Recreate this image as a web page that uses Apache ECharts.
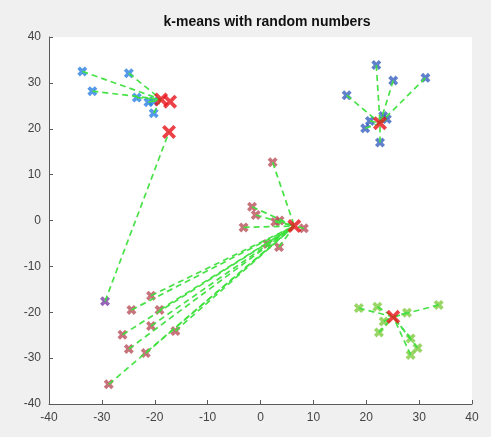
<!DOCTYPE html>
<html>
<head>
<meta charset="utf-8">
<script src="https://cdn.jsdelivr.net/npm/echarts@6/dist/echarts.min.js"></script>
<style>html,body{margin:0;padding:0;background:#f0f0f0;}#c{width:491px;height:437px;}</style>
</head>
<body>
<div id="c"></div>
<script>
// Centroids: [x, y]
var centroids = [
  [-18.8, 26.4],   // 0: blue cluster
  [-17.1, 25.9],   // 1: empty centroid
  [-17.3, 19.3],   // 2: purple cluster
  [22.6, 21.2],    // 3: dark blue cluster
  [6.4, -1.2],     // 4: red cluster
  [25.1, -21.0]    // 5: green cluster
];
// Points per cluster, with the centroid index they belong to
var blueA = [[-33.7, 32.5], [-24.9, 32.1], [-31.8, 28.2], [-23.4, 26.8], [-21.2, 25.8], [-20.2, 26.0], [-20.2, 23.4]];
var blueAcent = 0;
var purple = [[-29.4, -17.6]];
var purplecent = 2;
var blueB = [[21.9, 33.9], [25.1, 30.5], [31.2, 31.1], [16.3, 27.3], [20.7, 21.7], [19.8, 20.1], [23.2, 22.8], [23.9, 22.1], [22.6, 17.0]];
var blueBcent = 3;
var redC = [[2.3, 12.7], [-1.6, 3.0], [-0.9, 1.2], [-3.2, -1.5], [2.8, -0.3], [3.6, 0.0], [8.2, -1.7], [3.5, -5.8], [1.3, -5.1],
            [-20.7, -16.4], [-24.4, -19.5], [-19.1, -19.5], [-20.7, -23.0], [-26.1, -24.9], [-16.1, -24.1], [-24.9, -28.0], [-21.7, -28.9], [-28.7, -35.7]];
var redCcent = 4;
var greenD = [[18.6, -19.1], [22.1, -18.8], [27.7, -20.1], [33.7, -18.4], [23.3, -22.0], [22.4, -24.4], [28.4, -25.7], [29.7, -27.8], [28.4, -29.3]];
var greenDcent = 5;
var xTicks = [-40, -30, -20, -10, 0, 10, 20, 30, 40];
var yTicks = [-40, -30, -20, -10, 0, 10, 20, 30, 40];

var groups = [
  {pts: blueA, c: blueAcent, color: '#2a7fe4'},
  {pts: purple, c: purplecent, color: '#7a3fa6'},
  {pts: blueB, c: blueBcent, color: '#3a60bf'},
  {pts: redC, c: redCcent, color: '#b9505a'},
  {pts: greenD, c: greenDcent, color: '#7fcc40'}
];
var xPath = 'path://M0,2.6 L2.6,0 L5,2.4 L7.4,0 L10,2.6 L7.6,5 L10,7.4 L7.4,10 L5,7.6 L2.6,10 L0,7.4 L2.4,5 Z';
var cPath = 'path://M0,1.9 L1.9,0 L5,3.1 L8.1,0 L10,1.9 L6.9,5 L10,8.1 L8.1,10 L5,6.9 L1.9,10 L0,8.1 L3.1,5 Z';

var series = [];
groups.forEach(function (g) {
  series.push({type: 'scatter', data: g.pts, symbol: xPath, symbolSize: 10, itemStyle: {color: g.color}, z: 2, silent: true});
});
var segs = [];
groups.forEach(function (g) {
  g.pts.forEach(function (p) { segs.push({coords: [p, centroids[g.c]]}); });
});
series.push({type: 'lines', coordinateSystem: 'cartesian2d', data: segs, z: 3, silent: true,
  lineStyle: {color: '#3ee03e', width: 1.7, type: [6, 4], opacity: 0.95}});
series.push({type: 'scatter', data: centroids, symbol: cPath, symbolSize: 14, itemStyle: {color: '#e8121a'}, z: 4, silent: true});

var chart = echarts.init(document.getElementById('c'), null, {renderer: 'canvas'});
var axisCommon = {
  type: 'value', min: -40, max: 40, interval: 10,
  axisLine: {show: true, onZero: false, lineStyle: {color: '#5a5a5a', width: 1}},
  axisTick: {show: true, inside: true, length: 4, lineStyle: {color: '#5a5a5a'}},
  splitLine: {show: false},
  axisLabel: {color: '#444', fontSize: 12, fontFamily: 'Liberation Sans, Arial, sans-serif', margin: 8,
    showMinLabel: true, showMaxLabel: true}
};
chart.setOption({
  animation: false,
  backgroundColor: '#f0f0f0',
  title: {text: 'k-means with random numbers', left: 262, top: 10, textAlign: 'center',
    textStyle: {fontSize: 14, fontWeight: 'bold', color: '#111', fontFamily: 'Liberation Sans, Arial, sans-serif'}},
  grid: {left: 49, right: 19, top: 37, bottom: 33, show: true, backgroundColor: '#ffffff', borderWidth: 0, containLabel: false},
  xAxis: Object.assign({}, axisCommon, {position: 'bottom'}),
  yAxis: Object.assign({}, axisCommon, {position: 'left'}),
  series: series
});
</script>
</body>
</html>
